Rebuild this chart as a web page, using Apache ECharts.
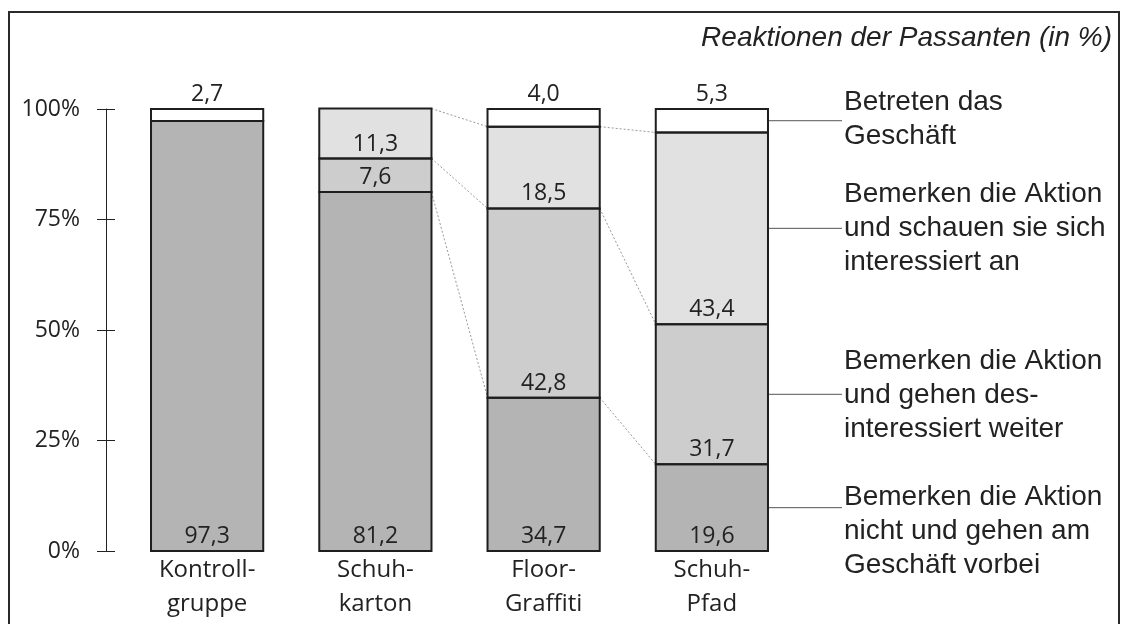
<!DOCTYPE html>
<html>
<head>
<meta charset="utf-8">
<script src="https://cdn.jsdelivr.net/npm/echarts@6/dist/echarts.min.js"></script>
<style>html,body{margin:0;padding:0;background:#fff}#c{width:1125px;height:624px}</style>
</head>
<body>
<div id="c"></div>
<script>
// ---- data ----
var categories = ['Kontroll-\ngruppe', 'Schuh-\nkarton', 'Floor-\nGraffiti', 'Schuh-\nPfad'];
var seriesNames = [
  'Bemerken die Aktion nicht und gehen am Geschäft vorbei',
  'Bemerken die Aktion und gehen desinteressiert weiter',
  'Bemerken die Aktion und schauen sie sich interessiert an',
  'Betreten das Geschäft'
];
var ignored      = [97.3, 81.2, 34.7, 19.6];
var uninterested = [null, 7.6, 42.8, 31.7];
var interested   = [null, 11.3, 18.5, 43.4];
var entered      = [2.7, null, 4.0, 5.3];
var yTicks = [0, 25, 50, 75, 100];
var titleText = 'Reaktionen der Passanten (in %)';
var legendLines = [
  ['Bemerken die Aktion', 'nicht und gehen am', 'Geschäft vorbei'],
  ['Bemerken die Aktion', 'und gehen des-', 'interessiert weiter'],
  ['Bemerken die Aktion', 'und schauen sie sich', 'interessiert an'],
  ['Betreten das', 'Geschäft']
];

// ---- build ----
var stacks = [ignored, uninterested, interested, entered];
var colors = ['#b4b4b4', '#cdcdcd', '#e1e1e1', '#ffffff'];
var BAR_FRAC = 0.667;
var FONT = '"Open Sans", sans-serif';
var LFONT = '"Liberation Sans", Arial, sans-serif';
var EDGE = '#1e1e1e';

function cum(ci, si) { // top of stack level si in category ci
  var s = 0;
  for (var k = 0; k <= si; k++) s += (stacks[k][ci] || 0);
  return s;
}
function fmt(v) { return v.toFixed(1).replace('.', ','); }

var series = stacks.map(function (arr, si) {
  return {
    name: seriesNames[si], type: 'bar', stack: 'a', data: arr,
    barWidth: (BAR_FRAC * 100) + '%',
    itemStyle: { color: colors[si], borderWidth: 0 },
    label: {
      show: true, position: si === 3 ? 'top' : 'insideBottom', distance: 3,
      fontFamily: FONT, fontSize: 23, color: '#222',
      formatter: function (p) { return p.value == null ? '' : fmt(p.value); }
    },
    z: 2, emphasis: { disabled: true }, animation: false
  };
});

// outlines of every segment (shared edges drawn once on the exact boundary)
var outlineData = [];
categories.forEach(function (c, ci) {
  stacks.forEach(function (arr, si) {
    if (arr[ci] != null) outlineData.push([ci, cum(ci, si) - arr[ci], cum(ci, si)]);
  });
});
series.push({
  type: 'custom', data: outlineData, animation: false, silent: true, z: 3,
  renderItem: function (params, api) {
    var ci = api.value(0);
    var p0 = api.coord([ci, api.value(1)]);
    var p1 = api.coord([ci, api.value(2)]);
    var hw = api.size([1, 0])[0] * BAR_FRAC / 2;
    return { type: 'rect', shape: { x: p0[0] - hw, y: p1[1], width: hw * 2, height: p0[1] - p1[1] },
      style: { fill: 'none', stroke: EDGE, lineWidth: 2 } };
  }
});

// connector lines between bars (categories 1->2, 2->3) for first three stack levels
var connData = [];
[1, 2].forEach(function (ci) {
  for (var si = 0; si < 3; si++) connData.push([ci, cum(ci, si), cum(ci + 1, si)]);
});
series.push({
  type: 'custom', data: connData, animation: false, silent: true, z: 1,
  renderItem: function (params, api) {
    var i0 = api.value(0);
    var p0 = api.coord([i0, api.value(1)]);
    var p1 = api.coord([i0 + 1, api.value(2)]);
    var hw = api.size([1, 0])[0] * BAR_FRAC / 2;
    return { type: 'line', shape: { x1: p0[0] + hw, y1: p0[1], x2: p1[0] - hw, y2: p1[1] },
      style: { stroke: '#999', lineWidth: 1, lineDash: [2, 2] } };
  }
});

// leader lines from last bar's segment midpoints to the legend text
var last = categories.length - 1;
var leadData = stacks.map(function (arr, si) { return [last, cum(last, si) - (arr[last] || 0) / 2]; });
series.push({
  type: 'custom', data: leadData, animation: false, silent: true, z: 1,
  renderItem: function (params, api) {
    var p = api.coord([api.value(0), api.value(1)]);
    var hw = api.size([1, 0])[0] * BAR_FRAC / 2;
    return { type: 'line', shape: { x1: p[0] + hw + 1, y1: p[1], x2: 842, y2: p[1] },
      style: { stroke: '#555', lineWidth: 1 } };
  }
});

var legendTop = [480, 344, 177, 85];
var graphics = [
  { type: 'rect', shape: { x: 9, y: 12, width: 1110, height: 640 },
    style: { fill: 'none', stroke: '#2a2a2a', lineWidth: 2 }, silent: true, z: 100 },
  { type: 'text', x: 1112, y: 38, silent: true,
    style: { text: titleText, align: 'right', verticalAlign: 'middle',
      font: 'italic 28px ' + LFONT, fill: '#222' } }
];
legendLines.forEach(function (lines, i) {
  graphics.push({ type: 'text', x: 844, y: legendTop[i], silent: true,
    style: { text: lines.join('\n'), align: 'left', verticalAlign: 'top',
      font: '28px ' + LFONT, lineHeight: 34, fill: '#222' } });
});

var yAxisBase = {
  type: 'value', position: 'left',
  min: yTicks[0], max: yTicks[yTicks.length - 1], interval: yTicks[1] - yTicks[0],
  offset: 17, splitLine: { show: false }
};
var option = {
  backgroundColor: '#fff',
  animation: false,
  grid: { left: 123, right: 329, top: 109, bottom: 73, containLabel: false },
  xAxis: {
    type: 'category', data: categories,
    axisLine: { show: false }, axisTick: { show: false },
    axisLabel: { fontFamily: FONT, fontSize: 24, color: '#222', lineHeight: 34, margin: 2 }
  },
  yAxis: [
    Object.assign({}, yAxisBase, {
      axisLine: { show: true, lineStyle: { color: '#222', width: 1 } },
      axisTick: { show: true, length: 9, lineStyle: { color: '#222', width: 1 } },
      axisLabel: { fontFamily: FONT, fontSize: 23, color: '#222', margin: 26,
        formatter: function (v) { return v + '%'; } }
    }),
    Object.assign({}, yAxisBase, {
      axisLine: { show: false },
      axisTick: { show: true, inside: true, length: 9, lineStyle: { color: '#222', width: 1 } },
      axisLabel: { show: false }
    })
  ],
  series: series,
  graphic: graphics
};
var chart = echarts.init(document.getElementById('c'), null, { renderer: 'canvas' });
chart.setOption(option);
</script>
</body>
</html>
